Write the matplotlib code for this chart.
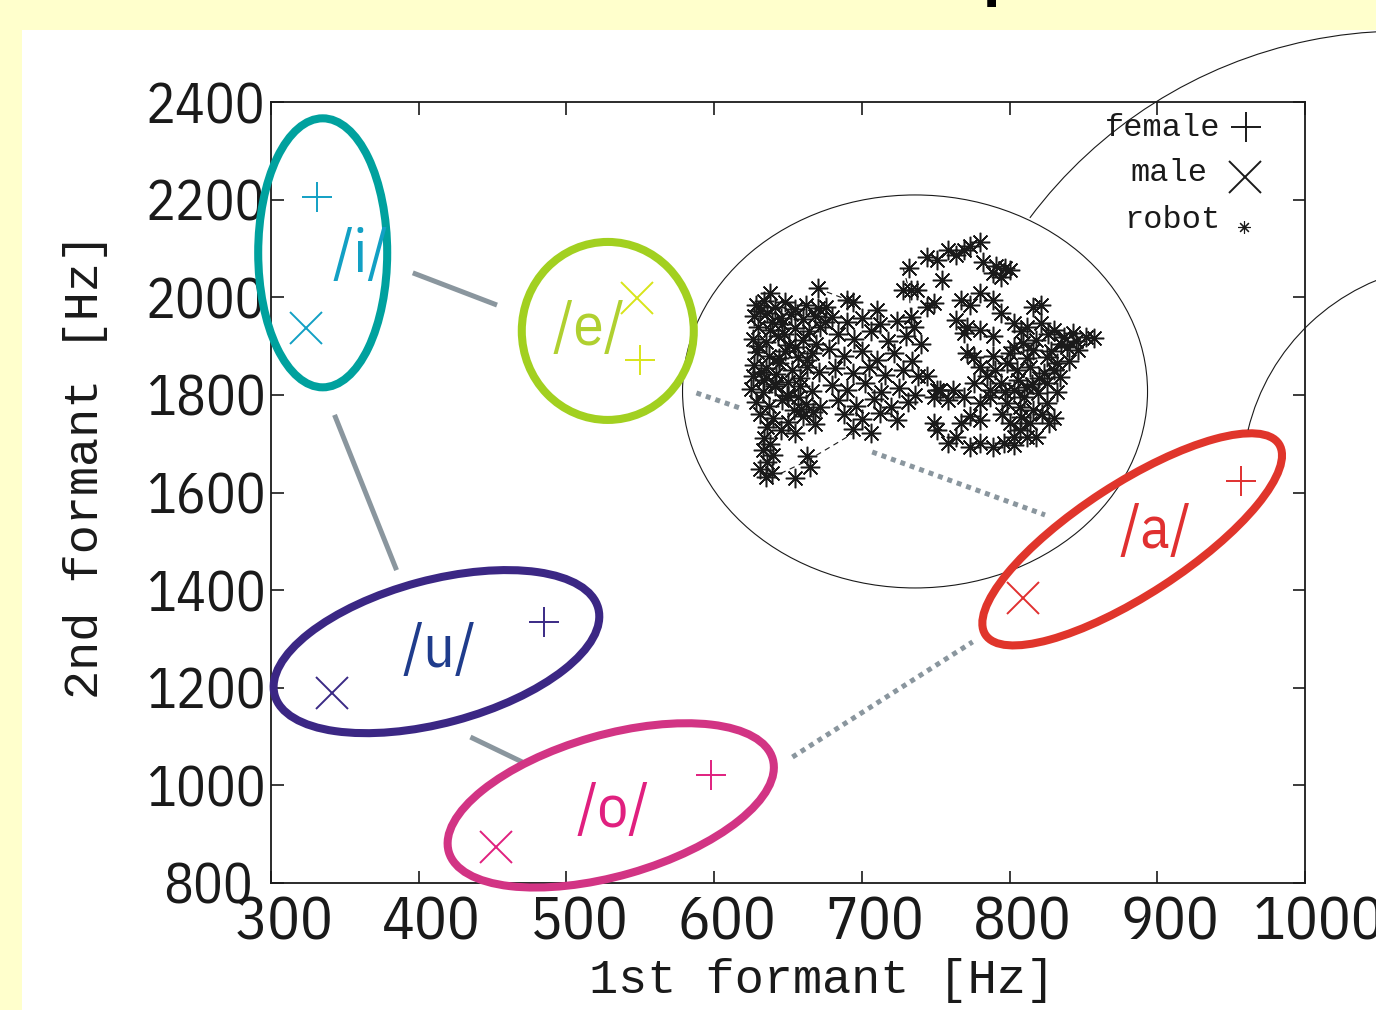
import numpy as np
import matplotlib.pyplot as plt
from matplotlib.patches import Ellipse, Arc, Rectangle
from matplotlib.transforms import ScaledTranslation

# --- vowel formants [Hz] ---
vowels = ['/i/', '/e/', '/u/', '/o/', '/a/']
female_f1 = [331, 550, 485, 598, 957]
female_f2 = [2206, 1871, 1334, 1021, 1623]
male_f1 = [324, 548, 341, 452, 809]
male_f2 = [1936, 1998, 1189, 873, 1384]

# label and ellipse centre for each vowel (data units)
label_f1 = [361, 515, 414, 532, 899]
label_f2 = [2085, 1937, 1277, 948, 1521]
ell_f1 = [335, 528, 412, 530, 883]
ell_f2 = [2091, 1931, 1274, 959, 1504]

# robot formant cloud
robot_f1 = [
    628, 634, 641, 648, 655, 662, 670,
    627, 636, 645, 652, 660, 668, 675,
    630, 638, 646, 655, 664, 672,
    626, 635, 643, 651, 660, 669,
    629, 637, 648, 657, 666,
    627, 635, 644, 653, 663, 671,
    626, 634, 642, 650, 658,
    625, 633, 641, 649, 657, 666,
    628, 637, 646, 654, 662, 672,
    631, 640, 650, 660, 668,
    636, 645, 655,
    634, 638, 633, 640, 636, 631, 639, 635, 655, 663, 665,
    638, 670, 690, 694, 710, 676,
    680, 690, 700, 712, 724, 735,
    684, 695, 706, 718, 730, 740,
    678, 688, 700, 710, 722, 734,
    682, 694, 705, 716, 728, 738,
    680, 690, 702, 713, 725, 736,
    684, 696, 708, 720, 731,
    688, 700, 712, 724,
    694, 706,
    744, 749, 751,
    744, 758, 769, 780, 751, 764, 773, 732, 733, 737, 728, 754, 744, 749, 733,
    782, 791, 800, 794, 789, 797,
    767, 780, 789, 773, 764, 771, 780, 789, 816, 821, 794,
    803, 812, 821, 830, 837, 843, 852, 857, 839, 846,
    803, 809, 816, 825, 832,
    798, 805, 814, 823, 830, 834,
    794, 803, 812, 819, 825,
    787, 798, 807, 816, 825,
    800, 807, 814, 818, 812, 803, 827, 830,
    769, 776, 771, 780, 785, 776, 762, 769, 780, 787, 773, 780, 767, 753, 758, 749, 751,
    758, 764, 773, 780, 789, 796, 803,
    808, 826, 835, 818, 800, 812, 828, 806, 820, 810, 797, 822, 808, 795, 832, 840, 845, 790, 789, 815,
    631, 639, 647, 655, 663, 632, 641, 650, 659, 630, 644, 658, 667,
]
robot_f2 = [
    1985, 1992, 1980, 1990, 1976, 1984, 1978,
    1962, 1968, 1958, 1965, 1955, 1962, 1950,
    1940, 1932, 1945, 1936, 1930, 1940,
    1915, 1908, 1920, 1902, 1912, 1905,
    1888, 1880, 1890, 1878, 1885,
    1862, 1855, 1866, 1850, 1858, 1846,
    1838, 1830, 1842, 1826, 1834,
    1812, 1805, 1818, 1800, 1795, 1808,
    1785, 1778, 1790, 1770, 1782, 1775,
    1760, 1752, 1745, 1756, 1740,
    1735, 1728, 1722,
    1712, 1700, 1688, 1676, 1662, 1648, 1640, 1632, 1629, 1674, 1653,
    2008, 2018, 1995, 1991, 1974, 1981,
    1960, 1950, 1958, 1945, 1952, 1940,
    1925, 1915, 1930, 1910, 1920, 1905,
    1895, 1880, 1890, 1872, 1885, 1870,
    1855, 1845, 1858, 1840, 1850, 1838,
    1820, 1810, 1825, 1805, 1815, 1800,
    1790, 1778, 1792, 1775, 1785,
    1760, 1750, 1762, 1748,
    1730, 1722,
    1838, 1796, 1810,
    2083, 2097, 2097, 2114, 2077, 2087, 2104, 2059, 2015, 2015, 2015, 2036, 1981, 1988, 1960,
    2073, 2063, 2056, 2042, 2049, 2059,
    1995, 2008, 1995, 1984, 1954, 1940, 1933, 1920, 1981, 1984, 1967,
    1947, 1940, 1947, 1933, 1919, 1926, 1919, 1916, 1899, 1892,
    1899, 1906, 1892, 1878, 1865,
    1865, 1851, 1858, 1844, 1851, 1837,
    1824, 1810, 1817, 1803, 1824,
    1796, 1783, 1776, 1769, 1783,
    1742, 1728, 1742, 1714, 1714, 1714, 1742, 1752,
    1926, 1878, 1885, 1858, 1838, 1824, 1810, 1796, 1783, 1810, 1756, 1749, 1742, 1810, 1790, 1742, 1728,
    1701, 1714, 1694, 1701, 1694, 1701, 1697,
    1930, 1925, 1905, 1912, 1885, 1875, 1890, 1830, 1835, 1795, 1805, 1760, 1755, 1760, 1805, 1870, 1910, 1850, 1880, 1822,
    1972, 1950, 1925, 1898, 1872, 1846, 1822, 1797, 1772, 1900, 1875, 1818, 1764,
]
# a few visible robot trajectories (dashed)
trail_f1 = [[645, 663, 694], [670, 690, 694], [728, 732, 733]]
trail_f2 = [[1639, 1665, 1721], [2018, 1995, 1991], [2059, 2015, 1968]]

# grey links between vowel groups (solid / dotted)
link_solid = [((396, 2050), (453, 1984)), ((343, 1759), (385, 1441)), ((435, 1099), (470, 1048))]
link_dotted = [((588, 1804), (617.5, 1773)), ((707, 1683), (824, 1554)), ((653, 1058), (775, 1294))]

# styling
ell_size = [(1.29, 2.69, 0), (1.72, 1.78, 0), (3.35, 1.43, 15), (3.37, 1.41, 16), (3.50, 1.11, 33)]
ell_col = ['#00a19e', '#a2d020', '#3b2784', '#d23484', '#e0352b']
txt_col = ['#12a0c4', '#b0d030', '#1f3c8c', '#e0207f', '#e03030']
mk_col = ['#12a0c4', '#d8e41a', '#3a2a85', '#e0207f', '#e03030']
grey = '#8a969e'
ink = '#1a1a1a'
asterisk = (8, 2, 0)
narrow = ['IBM Plex Sans Condensed', 'Open Sans', 'DejaVu Sans']
mono = ['Liberation Mono', 'DejaVu Sans Mono']

fig = plt.figure(figsize=(13.76, 10.10), dpi=100, facecolor='#ffffcc')
fig.patches.append(Rectangle((22 / 1376, 0), 1, 980 / 1010, transform=fig.transFigure,
                             facecolor='white', edgecolor='none', zorder=-5))
ax = fig.add_axes([271 / 1376, 127 / 1010, 1034 / 1376, 781 / 1010])
ax.set_xlim(300, 1000)
ax.set_ylim(800, 2400)

# links
for (a, b) in link_solid:
    ax.plot([a[0], b[0]], [a[1], b[1]], color=grey, lw=3.6, solid_capstyle='butt', zorder=1)
for (a, b) in link_dotted:
    ax.plot([a[0], b[0]], [a[1], b[1]], color=grey, lw=3.6, ls=(0, (1, 1)),
            dash_capstyle='butt', zorder=1)

# robot cloud + enclosing ellipse
for tx, ty in zip(trail_f1, trail_f2):
    ax.plot(tx, ty, color=ink, lw=0.8, ls=(0, (5, 4)), zorder=2)
ax.plot(robot_f1, robot_f2, ls='none', marker=asterisk, ms=14, mew=1.1,
        color=ink, zorder=2)


def offset_tr(x, y):
    return fig.dpi_scale_trans + ScaledTranslation(x, y, ax.transData)


ax.add_patch(Ellipse((0, 0), 4.65, 3.93, angle=0, transform=offset_tr(736, 1807),
                     fill=False, ec=ink, lw=0.8, clip_on=False, zorder=1.5))

# vowel groups
for i, v in enumerate(vowels):
    w, h, ang = ell_size[i]
    ax.add_patch(Ellipse((0, 0), w, h, angle=ang, transform=offset_tr(ell_f1[i], ell_f2[i]),
                         fill=False, ec=ell_col[i], lw=5.8, clip_on=False, zorder=3))
    ax.plot(female_f1[i], female_f2[i], marker='+', ms=22, mew=1.4, color=mk_col[i],
            ls='none', clip_on=False, zorder=4)
    ax.plot(male_f1[i], male_f2[i], marker='x', ms=23, mew=1.4, color=mk_col[i],
            ls='none', clip_on=False, zorder=4)
    ax.text(label_f1[i], label_f2[i], v, color=txt_col[i], fontsize=44,
            family=narrow, ha='center', va='center', zorder=4)

# callout arcs (zoom circles going off the page)
fig.add_artist(Arc((14.03, 5.13), 9.32, 9.32, theta1=60, theta2=143.2,
                   transform=fig.dpi_scale_trans, color=ink, lw=0.8))
fig.add_artist(Arc((14.59, 5.29), 4.34, 4.34, theta1=100, theta2=166.4,
                   transform=fig.dpi_scale_trans, color=ink, lw=0.8))

# legend drawn by hand
ax.text(0.918, 0.967, 'female', transform=ax.transAxes, ha='right', va='center',
        fontsize=23, family=mono, color=ink)
ax.text(0.906, 0.909, 'male', transform=ax.transAxes, ha='right', va='center',
        fontsize=23, family=mono, color=ink)
ax.text(0.918, 0.849, 'robot', transform=ax.transAxes, ha='right', va='center',
        fontsize=23, family=mono, color=ink)
ax.plot([0.943], [0.968], marker='+', ms=22, mew=1.4, color=ink, transform=ax.transAxes)
ax.plot([0.942], [0.904], marker='x', ms=23, mew=1.4, color=ink, transform=ax.transAxes)
ax.plot([0.941], [0.840], marker=asterisk, ms=9, mew=0.8, color=ink, transform=ax.transAxes)

# axes
ax.set_xticks(np.arange(300, 1001, 100))
ax.set_yticks(np.arange(800, 2401, 200))
ax.tick_params(direction='in', top=True, right=True, length=9, width=1.2, colors=ink)
ax.tick_params(axis='x', pad=8)
ax.tick_params(axis='y', pad=4)
for lab in ax.get_xticklabels():
    lab.set_fontsize(44)
    lab.set_family(narrow)
    lab.set_transform(lab.get_transform() + ScaledTranslation(0.13, 0, fig.dpi_scale_trans))
ylabs = ax.get_yticklabels()
for lab in ylabs:
    lab.set_fontsize(40)
    lab.set_family(narrow)
# lowest label sits a bit further left in the original
ylabs[0].set_transform(ylabs[0].get_transform() + ScaledTranslation(-0.13, 0, fig.dpi_scale_trans))
for s in ax.spines.values():
    s.set_linewidth(1.3)
    s.set_color(ink)

ax.set_xlabel('1st formant [Hz]', fontsize=35, family=mono, color=ink)
ax.set_ylabel('2nd formant [Hz]', fontsize=35, family=mono, color=ink)
ax.xaxis.set_label_coords(0.533, -0.096)
ax.yaxis.set_label_coords(-0.158, 0.534)

# cut-off title glyph at the top edge
fig.text(983 / 1376, 1.0 + 3 / 1010, 'p', fontsize=36, fontweight='bold', va='baseline', color='black')

fig.savefig('out.png', dpi=100, facecolor=fig.get_facecolor())
